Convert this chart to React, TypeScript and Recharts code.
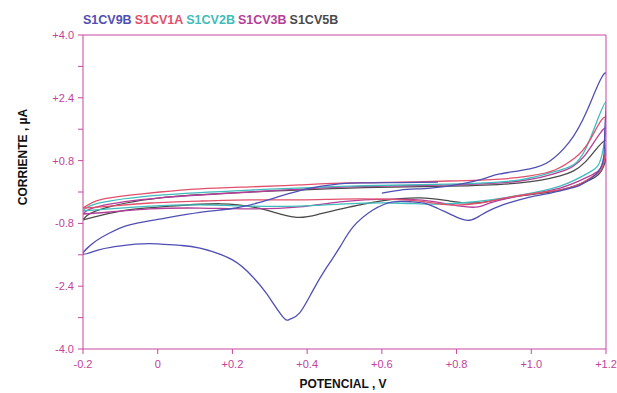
import React from 'react';
import { LineChart, Line, XAxis, YAxis, Label } from 'recharts';

// ---- data (potential V, current µA) ----
const cv9bX = [0.6, 0.65, 0.73, 0.81, 0.88, 0.916, 0.996, 1.05, 1.1, 1.15, 1.2,
  1.198, 1.195, 1.185, 1.165, 1.13, 1.085, 1.04, 0.996, 0.94, 0.89, 0.86, 0.835, 0.81, 0.78, 0.75, 0.72, 0.68, 0.63,
  0.576, 0.523, 0.488, 0.453, 0.416, 0.38, 0.354, 0.335, 0.29, 0.255, 0.2, 0.113, 0.06, 0.0, -0.06, -0.12, -0.16, -0.2,
  -0.17, -0.13, -0.08, 0.0, 0.113, 0.2, 0.27, 0.33, 0.4, 0.47, 0.54, 0.65, 0.75];
const cv9bY = [-0.03, 0.05, 0.1, 0.2, 0.36, 0.46, 0.59, 0.79, 1.25, 2.09, 3.03,
  1.8, 1.0, 0.6, 0.38, 0.17, 0.05, -0.05, -0.13, -0.28, -0.46, -0.62, -0.72, -0.68, -0.55, -0.42, -0.3, -0.25, -0.25,
  -0.46, -0.89, -1.4, -1.91, -2.5, -3.08, -3.24, -3.18, -2.57, -2.17, -1.73, -1.43, -1.36, -1.32, -1.33, -1.4, -1.48, -1.58,
  -1.28, -1.05, -0.85, -0.7, -0.52, -0.42, -0.27, -0.1, 0.08, 0.19, 0.23, 0.24, 0.25];

const cv1aX = [-0.2, -0.155, -0.074, 0.006, 0.113, 0.247, 0.38, 0.515, 0.65, 0.78, 0.916, 0.996, 1.063, 1.117, 1.157, 1.2,
  1.195, 1.17, 1.117, 1.037, 0.943, 0.863, 0.78, 0.7, 0.595, 0.488, 0.38, 0.247, 0.113, -0.02, -0.128, -0.2];
const cv1aY = [-0.41, -0.2, -0.08, 0.0, 0.08, 0.13, 0.18, 0.23, 0.25, 0.28, 0.33, 0.41, 0.56, 0.87, 1.32, 1.89,
  0.82, 0.43, 0.15, 0.0, -0.13, -0.28, -0.33, -0.23, -0.18, -0.18, -0.2, -0.2, -0.23, -0.28, -0.36, -0.41];

const cv2bX = [-0.2, -0.155, 0.006, 0.247, 0.515, 0.78, 0.97, 1.077, 1.144, 1.2,
  1.192, 1.157, 1.077, 0.97, 0.89, 0.81, 0.729, 0.622, 0.488, 0.38, 0.247, 0.113, -0.02, -0.128, -0.2];
const cv2bY = [-0.48, -0.28, -0.08, 0.05, 0.15, 0.2, 0.31, 0.56, 1.07, 2.29,
  1.07, 0.51, 0.15, -0.08, -0.2, -0.28, -0.31, -0.28, -0.31, -0.36, -0.36, -0.33, -0.36, -0.43, -0.48];

const cv3bX = [-0.2, -0.155, 0.006, 0.247, 0.515, 0.78, 0.97, 1.077, 1.144, 1.2,
  1.195, 1.157, 1.077, 0.97, 0.89, 0.857, 0.81, 0.729, 0.622, 0.488, 0.38, 0.247, 0.113, -0.02, -0.128, -0.2];
const cv3bY = [-0.56, -0.36, -0.15, 0.0, 0.13, 0.18, 0.28, 0.51, 0.94, 1.63,
  0.82, 0.41, 0.1, -0.1, -0.28, -0.38, -0.36, -0.23, -0.18, -0.25, -0.38, -0.43, -0.41, -0.43, -0.51, -0.56];

const cv5bX = [-0.2, -0.155, 0.006, 0.247, 0.515, 0.78, 0.97, 1.077, 1.144, 1.2,
  1.195, 1.157, 1.077, 0.97, 0.89, 0.841, 0.782, 0.702, 0.595, 0.515, 0.434, 0.367, 0.274, 0.167, 0.033, -0.074, -0.155, -0.2];
const cv5bY = [-0.71, -0.45, -0.15, 0.0, 0.1, 0.15, 0.23, 0.41, 0.76, 1.32,
  0.69, 0.31, 0.05, -0.1, -0.23, -0.28, -0.23, -0.15, -0.23, -0.38, -0.56, -0.64, -0.42, -0.3, -0.36, -0.45, -0.6, -0.71];

const seriesNames = ['S1CV9B', 'S1CV1A', 'S1CV2B', 'S1CV3B', 'S1CV5B'];
const seriesColors = ['#4f4fb4', '#e2506c', '#3fbcbc', '#b43e98', '#4a4a4a'];
const seriesX = [cv9bX, cv1aX, cv2bX, cv3bX, cv5bX];
const seriesY = [cv9bY, cv1aY, cv2bY, cv3bY, cv5bY];

const xTicks = [-0.2, 0, 0.2, 0.4, 0.6, 0.8, 1.0, 1.2];
const yTicks = [-4.0, -3.2, -2.4, -1.6, -0.8, 0, 0.8, 1.6, 2.4, 3.2, 4.0];
const yLabeled = [-40, -24, -8, 8, 24, 40];

const axisColor = '#c8479f';
const tickStyle = { fill: '#c2429a', fontSize: 11, fontFamily: 'Liberation Sans, Arial, sans-serif' };

const fmtX = (v: number) => {
  const r = Math.round(v * 10) / 10;
  if (r === 0) return '0';
  return (r > 0 ? '+' : '') + r.toFixed(1);
};
const fmtY = (v: number) => {
  const k = Math.round(v * 10);
  if (!yLabeled.includes(k)) return '';
  return (k > 0 ? '+' : '') + (k / 10).toFixed(1);
};

const toPoints = (xs: number[], ys: number[]) => xs.map((x, i) => ({ x, y: ys[i] }));

// draw blue last (on top)
const drawOrder = [4, 3, 2, 1, 0];

export default function App() {
  return (
    <div style={{ position: 'absolute', left: 0, top: 0, width: 617, height: 393, background: '#fff' }}>
      <div
        style={{
          position: 'absolute', left: 83, top: 13, zIndex: 2, whiteSpace: 'nowrap',
          fontFamily: 'Liberation Sans, Arial, sans-serif', fontWeight: 'bold', fontSize: 12.5,
        }}
      >
        {seriesNames.map((n, i) => (
          <span key={n} style={{ color: seriesColors[i], marginRight: 3 }}>{n}</span>
        ))}
      </div>
      <LineChart width={617} height={393} margin={{ top: 0, right: 0, bottom: 0, left: 0 }}>
        <XAxis
          type="number" dataKey="x" domain={[-0.2, 1.2]} ticks={xTicks} allowDataOverflow
          height={44} stroke={axisColor} tickSize={5} tickMargin={6} tick={tickStyle}
          tickFormatter={fmtX} interval={0}
        >
          <Label
            content={() => (
              <text x={343} y={388} textAnchor="middle" fontSize={12} fontWeight="bold"
                fontFamily="Liberation Sans, Arial, sans-serif" fill="#111">POTENCIAL , V</text>
            )}
          />
        </XAxis>
        <XAxis
          xAxisId="top" orientation="top" type="number" domain={[-0.2, 1.2]} ticks={xTicks}
          height={35} stroke={axisColor} tickSize={4} tickFormatter={() => ''} interval={0}
        />
        <YAxis
          type="number" domain={[-4, 4]} ticks={yTicks} allowDataOverflow width={83}
          stroke={axisColor} tickSize={5} tickMargin={4} tick={tickStyle} tickFormatter={fmtY} interval={0}
        >
          <Label
            content={() => (
              <text x={23} y={157} transform="rotate(-90 23 157)" textAnchor="middle" dominantBaseline="central"
                fontSize={12} fontWeight="bold" fontFamily="Liberation Sans, Arial, sans-serif" fill="#111">
                CORRIENTE , µA
              </text>
            )}
          />
        </YAxis>
        <YAxis
          yAxisId="right" orientation="right" type="number" domain={[-4, 4]} ticks={yTicks} width={11}
          stroke={axisColor} tickSize={4} tickFormatter={() => ''} interval={0}
        />
        {drawOrder.map((i) => (
          <Line
            key={seriesNames[i]}
            data={toPoints(seriesX[i], seriesY[i])}
            dataKey="y"
            name={seriesNames[i]}
            type="natural"
            stroke={seriesColors[i]}
            strokeWidth={1.3}
            dot={false}
            activeDot={false}
            isAnimationActive={false}
          />
        ))}
      </LineChart>
    </div>
  );
}
